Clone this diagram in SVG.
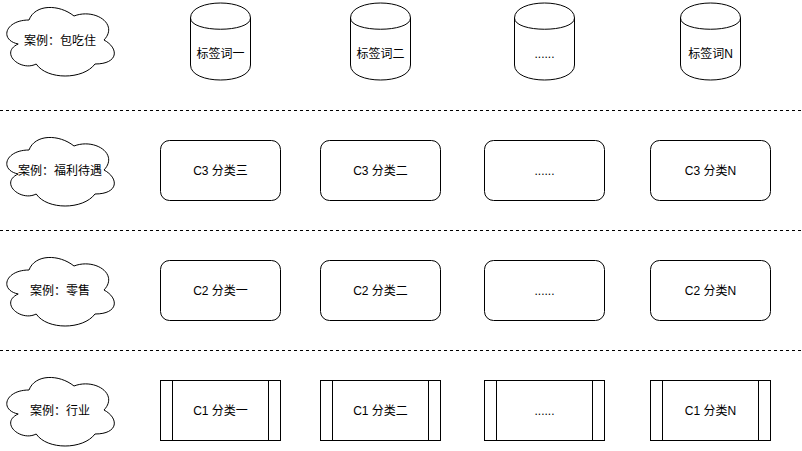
<svg xmlns="http://www.w3.org/2000/svg" width="802" height="451" viewBox="0 0 802 451">
<style>
.s{fill:#fff;stroke:#000;stroke-width:1}
.n{fill:none;stroke:#000;stroke-width:1}
.d{fill:none;stroke:#000;stroke-width:1;stroke-dasharray:3 3}
text{font-family:"Liberation Sans","Noto Sans CJK SC",sans-serif;font-size:12px;fill:#000;text-anchor:middle}
</style>
<defs>
<path id="cloud" d="M 30 20 C 6 20 0 40 19.2 44 C 0 52.8 21.6 72 37.2 64 C 48 80 84 80 96 64 C 120 64 120 48 105 40 C 120 24 96 8 75 16 C 60 4 36 4 30 20 Z"/>
<g id="cyl">
<path d="M0,15 C0,-5 60,-5 60,15 L60,62 C60,82 0,82 0,62 Z"/>
<path d="M0,15 C0,30 60,30 60,15" fill="none"/>
</g>
</defs>
<g id="dividers">
<line class="d" x1="0" y1="110.5" x2="802" y2="110.5"/>
<line class="d" x1="0" y1="230.5" x2="802" y2="230.5"/>
<line class="d" x1="0" y1="350.5" x2="802" y2="350.5"/>
</g>
<g id="cloud1"><use href="#cloud" class="s" transform="translate(-1,0)"/><text x="60" y="44.5">案例：包吃住</text></g>
<g id="cloud2"><use href="#cloud" class="s" transform="translate(-1,130)"/><text x="60" y="174.5">案例：福利待遇</text></g>
<g id="cloud3"><use href="#cloud" class="s" transform="translate(-1,250)"/><text x="60" y="294.5">案例：零售</text></g>
<g id="cloud4"><use href="#cloud" class="s" transform="translate(-1,370)"/><text x="60" y="414.5">案例：行业</text></g>

<g id="tag1"><use href="#cyl" class="s" transform="translate(190.5,3)"/><text x="220.5" y="58">标签词一</text></g>
<g id="tag2"><use href="#cyl" class="s" transform="translate(350.5,3)"/><text x="380.5" y="58">标签词二</text></g>
<g id="tag3"><use href="#cyl" class="s" transform="translate(514.5,3)"/><text x="544.5" y="58">......</text></g>
<g id="tagN"><use href="#cyl" class="s" transform="translate(680.5,3)"/><text x="710.5" y="58">标签词N</text></g>

<g id="c3a"><rect class="s" x="160.5" y="140.5" width="120" height="60" rx="9"/><text x="220.5" y="174.5">C3 分类三</text></g>
<g id="c3b"><rect class="s" x="320.5" y="140.5" width="120" height="60" rx="9"/><text x="380.5" y="174.5">C3 分类二</text></g>
<g id="c3c"><rect class="s" x="484.5" y="140.5" width="120" height="60" rx="9"/><text x="544.5" y="174.5">......</text></g>
<g id="c3n"><rect class="s" x="650.5" y="140.5" width="120" height="60" rx="9"/><text x="710.5" y="174.5">C3 分类N</text></g>

<g id="c2a"><rect class="s" x="160.5" y="260.5" width="120" height="60" rx="9"/><text x="220.5" y="294.5">C2 分类一</text></g>
<g id="c2b"><rect class="s" x="320.5" y="260.5" width="120" height="60" rx="9"/><text x="380.5" y="294.5">C2 分类二</text></g>
<g id="c2c"><rect class="s" x="484.5" y="260.5" width="120" height="60" rx="9"/><text x="544.5" y="294.5">......</text></g>
<g id="c2n"><rect class="s" x="650.5" y="260.5" width="120" height="60" rx="9"/><text x="710.5" y="294.5">C2 分类N</text></g>

<g id="c1a"><rect class="s" x="160.5" y="380.5" width="120" height="60"/><path class="n" d="M172.5,380.5V440.5M268.5,380.5V440.5"/><text x="220.5" y="414.5">C1 分类一</text></g>
<g id="c1b"><rect class="s" x="320.5" y="380.5" width="120" height="60"/><path class="n" d="M332.5,380.5V440.5M428.5,380.5V440.5"/><text x="380.5" y="414.5">C1 分类二</text></g>
<g id="c1c"><rect class="s" x="484.5" y="380.5" width="120" height="60"/><path class="n" d="M496.5,380.5V440.5M592.5,380.5V440.5"/><text x="544.5" y="414.5">......</text></g>
<g id="c1n"><rect class="s" x="650.5" y="380.5" width="120" height="60"/><path class="n" d="M662.5,380.5V440.5M758.5,380.5V440.5"/><text x="710.5" y="414.5">C1 分类N</text></g>
</svg>
